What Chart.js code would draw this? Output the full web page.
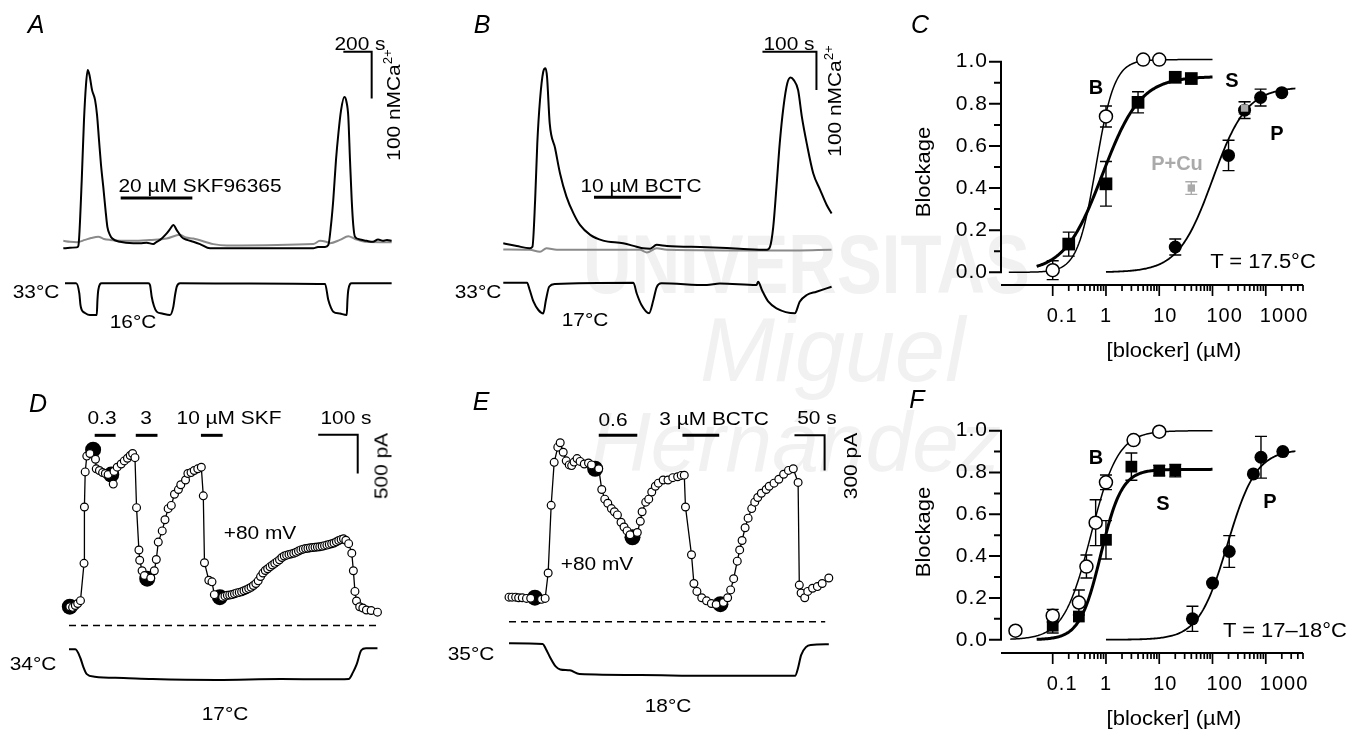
<!DOCTYPE html>
<html>
<head>
<meta charset="utf-8">
<title>Block of cold-evoked responses</title>
<script src="https://cdn.jsdelivr.net/npm/chart.js"></script>
<style>
  html, body { margin:0; padding:0; background:#fff; }
  #fig { position:relative; width:1360px; height:730px; overflow:hidden;
         font-family:'Liberation Sans', Arial, Helvetica, sans-serif; color:#000; }
  #fig canvas { position:absolute; z-index:1; }
  .t { position:absolute; white-space:nowrap; font-size:19px; line-height:1;
       transform:translate(-50%,-50%) scaleX(1.1); z-index:2; }
  .r { transform:translate(-50%,-50%) rotate(-90deg) scaleX(1.1); }
  .p { font-size:25px; font-style:italic; transform:translate(-50%,-50%); }
  .b { font-weight:bold; font-size:20px; transform:translate(-50%,-50%); }
  .ax { font-size:20px; }
  .wm { position:absolute; white-space:nowrap; color:#f1f1f1; line-height:1; z-index:0; transform-origin:0 0; }
  sup { font-size:12px; vertical-align:8px; line-height:0; }
</style>
</head>
<body>
<div id="fig">
  <div class="wm" style="left:583px;top:222px;font-size:84px;font-weight:bold;transform:scaleX(0.8);">UNIVERSITAS</div>
  <div class="wm" style="left:700px;top:305px;font-size:90px;font-style:italic;">Miguel</div>
  <div class="wm" style="left:590px;top:400px;font-size:84px;font-style:italic;">Hernández</div>

  <canvas id="cA" width="440" height="345" style="left:0px;top:0px"></canvas>
  <canvas id="cB" width="440" height="345" style="left:440px;top:0px"></canvas>
  <canvas id="cC" width="440" height="340" style="left:900px;top:30px"></canvas>
  <canvas id="cD" width="440" height="360" style="left:0px;top:370px"></canvas>
  <canvas id="cE" width="440" height="360" style="left:440px;top:370px"></canvas>
  <canvas id="cF" width="440" height="330" style="left:900px;top:400px"></canvas>

  <!-- panel A -->
  <div class="t p" style="left:36px;top:24px">A</div>
  <div class="t" style="left:360px;top:43px">200 s</div>
  <div class="t r" style="left:393px;top:105px">100 nMCa<sup>2+</sup></div>
  <div class="t" style="left:200px;top:185px">20 µM SKF96365</div>
  <div class="t" style="left:36px;top:291px">33°C</div>
  <div class="t" style="left:133px;top:321px">16°C</div>

  <!-- panel B -->
  <div class="t p" style="left:482px;top:24px">B</div>
  <div class="t" style="left:789px;top:43px">100 s</div>
  <div class="t r" style="left:834px;top:101px">100 nMCa<sup>2+</sup></div>
  <div class="t" style="left:641px;top:185px">10 µM BCTC</div>
  <div class="t" style="left:478px;top:291px">33°C</div>
  <div class="t" style="left:585px;top:319px">17°C</div>

  <!-- panel C -->
  <div class="t p" style="left:920px;top:24px">C</div>
  <div class="t b" style="left:1096px;top:87px">B</div>
  <div class="t b" style="left:1232px;top:80px">S</div>
  <div class="t b" style="left:1277px;top:133px">P</div>
  <div class="t b" style="left:1177px;top:163px;color:#aaa">P+Cu</div>
  <div class="t ax" style="left:1263px;top:261px">T = 17.5°C</div>
  <div class="t r ax" style="left:923px;top:172px">Blockage</div>
  <div class="t ax" style="left:1174px;top:350px">[blocker] (µM)</div>

  <!-- panel D -->
  <div class="t p" style="left:38px;top:403px">D</div>
  <div class="t" style="left:102px;top:417px">0.3</div>
  <div class="t" style="left:146px;top:417px">3</div>
  <div class="t" style="left:229px;top:417px">10 µM SKF</div>
  <div class="t" style="left:346px;top:417px">100 s</div>
  <div class="t r" style="left:381px;top:466px">500 pA</div>
  <div class="t" style="left:260px;top:532px">+80 mV</div>
  <div class="t" style="left:33px;top:663px">34°C</div>
  <div class="t" style="left:225px;top:713px">17°C</div>

  <!-- panel E -->
  <div class="t p" style="left:481px;top:401px">E</div>
  <div class="t" style="left:613px;top:419px">0.6</div>
  <div class="t" style="left:714px;top:418px">3 µM BCTC</div>
  <div class="t" style="left:817px;top:417px">50 s</div>
  <div class="t r" style="left:850px;top:466px">300 pA</div>
  <div class="t" style="left:597px;top:563px">+80 mV</div>
  <div class="t" style="left:471px;top:653px">35°C</div>
  <div class="t" style="left:668px;top:705px">18°C</div>

  <!-- panel F -->
  <div class="t p" style="left:917px;top:399px">F</div>
  <div class="t b" style="left:1096px;top:457px">B</div>
  <div class="t b" style="left:1163px;top:503px">S</div>
  <div class="t b" style="left:1270px;top:501px">P</div>
  <div class="t ax" style="left:1285px;top:630px">T = 17–18°C</div>
  <div class="t r ax" style="left:923px;top:532px">Blockage</div>
  <div class="t ax" style="left:1174px;top:718px">[blocker] (µM)</div>
</div>

<script>
// ---------------- A: Ca2+ imaging, 20 µM SKF96365 ----------------
const A_time   = [0,47,95,106,113,130,146,160,172,185,203,224,238,252,266,282,298,311,329,346,400,494,541,589,635,659,683,730,753,777,801,836,873,918,965,1036,1765,1798,1848,1871,1890,1906,1925,1942,1961,1984,1999,2012,2024,2036,2047,2059,2094,2142,2186,2222,2257,2285,2318];
const A_ca     = [50,51,52,55,79,196,325,400,432,421,389,368,336,282,229,182,132,96,79,71,64,61,61,62,59,64,68,82,91,100,89,74,68,64,59,50,50,53,53,57,100,154,239,296,346,374,364,332,239,154,100,75,69,66,64,69,66,68,66];
const A_ctrlTime = [0,47,95,153,196,247,287,330,494,612,730,824,866,918,1059,1154,1765,1812,1855,1883,1953,2012,2059,2130,2318];
const A_ctrlCa   = [66,64,63,68,72,75,70,68,66,68,71,79,73,71,59,56,59,66,64,61,68,76,70,64,63];
const A_tempTime = [12,90,113,121,130,153,188,236,241,247,271,600,612,624,640,659,697,753,777,789,801,824,1318,1848,1871,1890,1906,1953,2001,2006,2012,2036,2318];
const A_temp     = [33,33,27.6,21.4,18.7,17.1,16,16,24,29.4,33,33,32.1,25.8,20.8,17.8,16.8,16,20.5,26.7,31.2,33,32.9,32.6,24,19.8,17.8,16.8,16,24,29.4,33,33];
const A_drug     = [405, 911];      // s, SKF96365 application
const A_drugLevel = 158;            // nM, height of application bar
const A_scaleAt  = [1977, 471];     // s, nM (corner of calibration)
const A_scaleLen = [200, 100];      // 200 s, 100 nM

// ---------------- B: Ca2+ imaging, 10 µM BCTC ----------------
const B_time = [0,25,49,54,59,63,68,74,78,81,86,96,105,117,130,142,161,185,222,247,259,272,284,303,377,438,488,494,500,506,512,519,526,532,538,546,553,562,574,587,599,608];
const B_ca   = [63,56,50,54,176,324,437,511,520,498,376,311,246,185,141,111,85,70,63,54,50,49,59,56,53,49,46,54,106,211,324,420,481,496,489,463,393,324,246,202,163,141];
const B_ctrlTime = [0,49,68,80,99,253,266,284,303,500,608];
const B_ctrlCa   = [47,46,41,50,46,46,39,50,46,44,46];
const B_tempTime = [0,44,49,56,65,74,79,85,96,241,247,256,270,278,284,293,377,401,469,472,479,491,506,540,549,562,580,608];
const B_temp     = [33,33,29.2,23.1,18.8,17,24,30.9,32.3,33,27.5,21.4,17.1,24,30.6,32.7,31.8,32.6,31.8,33.5,29.2,23.1,19.7,17.1,23.1,26.6,28.3,30.9];
const B_drug      = [168, 329];
const B_drugLevel = 183;
const B_scaleAt   = [480, 563];
const B_scaleLen  = [100, 100];

// ---------------- C: dose-response, T = 17.5 °C ----------------
const C_bctcConc = [0.1, 1, 5, 10];
const C_bctc     = [0.01, 0.74, 1.01, 1.01];
const C_bctcErr  = [0.045, 0.05, 0, 0];
const C_skfConc  = [0.2, 1, 4, 20, 40];
const C_skf      = [0.134, 0.42, 0.807, 0.926, 0.92];
const C_skfErr   = [0.057, 0.106, 0.05, 0, 0];
const C_proConc  = [20, 200, 400, 800, 2000];
const C_pro      = [0.12, 0.555, 0.77, 0.83, 0.853];
const C_proErr   = [0.038, 0.072, 0.04, 0.04, 0];
const C_proCuConc = [40, 400];
const C_proCu     = [0.40, 0.78];
const C_proCuErr  = [0.03, 0.03];
// Hill fits: [max, IC50 (µM), nH, first conc, last conc]
const C_bctcFit = [1.01, 0.65, 2.5, 0.015, 100];
const C_skfFit  = [0.93, 0.86, 1.22, 0.05, 100];
const C_proFit  = [0.88, 100, 1.35, 1, 3600];

// ---------------- D: whole-cell current at +80 mV, SKF96365 ----------------
const D_time    = [2,9,16,22,29,38,39,41,45,53,67,69,77,85,92,99,112,114,122,132,140,148,155,161,167,171,177,179,185,191,207,216,221,226,236,243,251,259,267,277,283,295,301,309,317,326,335,340,343,354,362,368,
                   389,395,401,407,413,419,425,431,437,443,449,455,461,467,473,479,485,491,497,503,509,515,521,527,533,539,545,551,557,563,569,575,581,587,593,599,605,611,617,623,629,635,641,647,653,659,665,671,677,683,689,695,701,708,
                   716,720,724,728,736,744,753,765,781];
const D_current = [242,234,258,283,320,800,1525,1977,2181,2214,2140,2017,1996,1968,1956,1943,1820,1984,2038,2079,2119,2153,2189,2214,2161,1517,972,840,705,643,611,705,849,1074,1218,1362,1504,1546,1689,1750,1812,1873,1956,1968,1996,2017,2038,1669,808,582,562,397,
                   365,378,388,392,398,408,420,426,433,448,461,475,492,515,540,575,630,675,708,730,755,778,800,822,845,875,895,906,915,922,930,942,958,973,983,990,995,1000,1004,1008,1010,1013,1020,1028,1035,1044,1052,1062,1077,1094,1106,1116,1098,1054,
                   931,705,439,316,242,225,200,193,172];
const D_markTime    = [2, 61, 107, 198, 382];
const D_markCurrent = [242, 2263, 1943, 603, 365];
const D_tempTime = [0,16,29,36,45,65,138,211,374,537,651,708,719,728,740,752,781];
const D_temp     = [34,34,28.9,24.1,19.8,18.3,17.6,17,16.5,17,16.8,17,20.8,25.2,33.5,34.7,34.7];
const D_drugs     = [[65,118],[169,224],[334,389]];   // 0.3, 3, 10 µM SKF
const D_drugLevel = 2448;
const D_zero      = [0, 781];
const D_scaleAt   = [631, 2456];
const D_scaleLen  = [100, 500];   // 100 s, 500 pA

// ---------------- E: whole-cell current at +80 mV, BCTC ----------------
const E_time    = [0,5,11,16,22,29,36,54,60,65,70,75,81,85,90,95,100,104,108,113,118,125,132,137,149,154,159,164,170,175,180,186,191,196,201,213,218,221,227,232,237,243,248,256,264,272,280,286,291,293,303,307,312,320,328,336,344,356,363,368,373,379,383,387,392,397,403,408,413,419,427,432,440,448,456,464,472,480,482,485,491,496,504,512,520,531];
const E_current = [210,210,210,205,205,199,200,191,199,417,996,1364,1494,1532,1450,1377,1342,1336,1366,1396,1372,1350,1358,1342,1309,1131,1049,1014,968,941,914,851,810,777,744,763,859,941,1023,1049,1110,1159,1186,1213,1213,1233,1241,1252,1254,982,573,327,259,205,178,155,147,164,205,272,368,518,614,695,804,886,968,1023,1063,1099,1131,1159,1186,1219,1262,1295,1309,1192,313,245,205,259,286,300,327,374];
const E_markTime    = [43, 143, 205, 351];
const E_markCurrent = [205, 1309, 722, 150];
const E_tempTime = [0,56,61,69,77,85,101,117,219,325,475,480,485,493,501,531];
const E_temp     = [35.2,34.8,32.3,27.2,23,21.3,20.8,18.8,18.3,17.9,17.9,22.2,28.9,33.1,34.3,34.6];
const E_drugs     = [[149,213],[288,349]];   // 0.6, 3 µM BCTC
const E_drugLevel = 1595;
const E_zero      = [0, 525];
const E_scaleAt   = [474, 1595];
const E_scaleLen  = [50, 300];    // 50 s, 300 pA

// ---------------- F: dose-response, T = 17-18 °C ----------------
const F_bctcConc = [0.02, 0.1, 0.31, 0.43, 0.64, 1, 3.3, 10];
const F_bctc     = [0.043, 0.115, 0.178, 0.35, 0.56, 0.753, 0.955, 0.995];
const F_bctcErr  = [0, 0.03, 0.06, 0.055, 0.11, 0.035, 0, 0];
const F_skfConc  = [0.1, 0.31, 1, 3, 10, 20];
const F_skf      = [0.067, 0.111, 0.478, 0.828, 0.809, 0.809];
const F_skfErr   = [0.035, 0, 0.092, 0.065, 0.025, 0.03];
const F_proConc  = [42, 100, 206, 585, 813, 2090];
const F_pro      = [0.10, 0.271, 0.422, 0.793, 0.873, 0.90];
const F_proErr   = [0.06, 0, 0.076, 0, 0.1, 0];
const F_bctcFit = [1.0, 0.52, 1.7, 0.016, 100];
const F_skfFit  = [0.815, 0.8, 2.2, 0.05, 100];
const F_proFit  = [0.91, 190, 1.6, 1, 3600];

// Axis tick values for the dose-response plots
const blockTicks  = [0, 0.2, 0.4, 0.6, 0.8, 1.0];
const decadeTicks = [0.1, 1, 10, 100, 1000];

// ================= helpers =================
Chart.defaults.font.family = "'Liberation Sans', Arial, Helvetica, sans-serif";
Chart.defaults.color = '#000';

const pts = (xs, ys) => xs.map((x, i) => ({ x, y: ys[i] }));

// Hill equation evaluated on a log-spaced concentration grid
function hillCurve([top, ic50, n, lo, hi]) {
  const out = [], N = 160;
  for (let i = 0; i <= N; i++) {
    const c = lo * Math.pow(hi / lo, i / N);
    out.push({ x: c, y: top / (1 + Math.pow(ic50 / c, n)) });
  }
  return out;
}

const smoothLine = (data, color, width, axis) => ({
  data, borderColor: color, borderWidth: width, pointRadius: 0, fill: false,
  cubicInterpolationMode: 'monotone', yAxisID: axis || 'y', clip: false, order: 5
});
const segment = (data, width, axis, dash) => ({
  data, borderColor: '#000', borderWidth: width, pointRadius: 0, fill: false, tension: 0,
  borderCapStyle: 'butt', borderJoinStyle: 'miter', yAxisID: axis || 'y', clip: false,
  borderDash: dash || [], order: 6
});
const scaleBar = ([t0, v0], [dt, dv]) =>
  segment([{ x: t0, y: v0 }, { x: t0 + dt, y: v0 }, { x: t0 + dt, y: v0 - dv }], 2);
const appBar = ([t0, t1], level) => segment([{ x: t0, y: level }, { x: t1, y: level }], 3);

function traceChart(id, g, datasets) {
  return new Chart(document.getElementById(id), {
    type: 'line',
    data: { datasets },
    options: {
      responsive: false, animation: false, devicePixelRatio: 1, events: [],
      layout: { padding: 0 },
      plugins: { legend: { display: false }, tooltip: { enabled: false } },
      scales: {
        x:  { type: 'linear', display: false, min: g.x[0], max: g.x[1] },
        y:  { type: 'linear', display: false, min: g.y[0], max: g.y[1] },
        yT: { type: 'linear', display: false, min: g.t[0], max: g.t[1] }
      }
    }
  });
}

// ---- A ----
traceChart('cA', { x: [-447, 2659.4], y: [-157.2, 582.1], t: [-0.07, 184.8] }, [
  smoothLine(pts(A_time, A_ca), '#000', 2),
  smoothLine(pts(A_ctrlTime, A_ctrlCa), '#8a8a8a', 2),
  smoothLine(pts(A_tempTime, A_temp), '#000', 2, 'yT'),
  appBar(A_drug, A_drugLevel),
  scaleBar(A_scaleAt, A_scaleLen)
]);

// ---- B ----
traceChart('cB', { x: [-117.2, 697.7], y: [-202.4, 698.1], t: [0.6, 180] }, [
  smoothLine(pts(B_time, B_ca), '#000', 2),
  smoothLine(pts(B_ctrlTime, B_ctrlCa), '#8a8a8a', 2),
  smoothLine(pts(B_tempTime, B_temp), '#000', 2, 'yT'),
  appBar(B_drug, B_drugLevel),
  scaleBar(B_scaleAt, B_scaleLen)
]);

// ---- D / E : open-circle time courses with filled markers at I-V ramps ----
function currentSets(time, cur, mTime, mCur) {
  return [
    { data: pts(time, cur), borderColor: '#000', borderWidth: 1.3, tension: 0, fill: false,
      pointStyle: 'circle', pointRadius: 3.9, pointBorderWidth: 1.2,
      pointBackgroundColor: '#fff', pointBorderColor: '#000', clip: false, order: 1 },
    { data: pts(mTime, mCur), showLine: false, pointStyle: 'circle', pointRadius: 8,
      pointBorderWidth: 0, pointBackgroundColor: '#000', pointBorderColor: '#000', clip: false, order: 2 }
  ];
}

traceChart('cD', { x: [-154.5, 919.1], y: [-1242, 3186], t: [-7.65, 189.6] }, [
  ...currentSets(D_time, D_current, D_markTime, D_markCurrent),
  segment([{ x: D_zero[0], y: 0 }, { x: D_zero[1], y: 0 }], 1.5, 'y', [7, 5]),
  smoothLine(pts(D_tempTime, D_temp), '#000', 2, 'yT'),
  ...D_drugs.map(d => appBar(d, D_drugLevel)),
  scaleBar(D_scaleAt, D_scaleLen)
]);

traceChart('cE', { x: [-101.3, 602.7], y: [-859, 2086], t: [-6.6, 175.9] }, [
  ...currentSets(E_time, E_current, E_markTime, E_markCurrent),
  segment([{ x: E_zero[0], y: 0 }, { x: E_zero[1], y: 0 }], 1.5, 'y', [7, 5]),
  smoothLine(pts(E_tempTime, E_temp), '#000', 2, 'yT'),
  ...E_drugs.map(d => appBar(d, E_drugLevel)),
  scaleBar(E_scaleAt, E_scaleLen)
]);

// ---- dose-response plots ----
const wideText = { id: 'wideText', beforeDraw(chart) { chart.ctx.letterSpacing = '1px'; } };

const errorBars = {
  id: 'errorBars',
  beforeDatasetsDraw(chart) {
    const { ctx, scales: { x, y } } = chart;
    ctx.save();
    chart.data.datasets.forEach(ds => {
      if (!ds.errors) return;
      ctx.strokeStyle = ds.errorColor || '#000';
      ctx.lineWidth = 1.4;
      ds.data.forEach((p, i) => {
        const e = ds.errors[i];
        if (!e) return;
        const px = x.getPixelForValue(p.x);
        const top = y.getPixelForValue(p.y + e), bot = y.getPixelForValue(p.y - e);
        ctx.beginPath();
        ctx.moveTo(px, top); ctx.lineTo(px, bot);
        ctx.moveTo(px - 6, top); ctx.lineTo(px + 6, top);
        ctx.moveTo(px - 6, bot); ctx.lineTo(px + 6, bot);
        ctx.stroke();
      });
    });
    ctx.restore();
  }
};

// Detached axis lines: y spine spans 0..1 only, log x axis with minor ticks below
const axisFrame = {
  id: 'axisFrame',
  afterDraw(chart) {
    const { ctx, chartArea: a, scales: { x, y } } = chart;
    ctx.save();
    ctx.strokeStyle = '#000';
    ctx.lineCap = 'butt';
    ctx.lineWidth = 2;
    const yTop = y.getPixelForValue(1), yBot = y.getPixelForValue(0);
    ctx.beginPath();
    ctx.moveTo(a.left, yBot + 1); ctx.lineTo(a.left, yTop - 1);
    for (let i = 0; i <= 10; i++) {
      const p = y.getPixelForValue(i / 10);
      const len = i % 2 === 0 ? 12 : 7;
      ctx.moveTo(a.left - len, p); ctx.lineTo(a.left, p);
    }
    ctx.moveTo(a.left, a.bottom); ctx.lineTo(a.right, a.bottom);
    ctx.stroke();
    ctx.lineWidth = 1.7;
    ctx.beginPath();
    decadeTicks.forEach(d => {
      const p = x.getPixelForValue(d);
      ctx.moveTo(p, a.bottom); ctx.lineTo(p, a.bottom + 11);
      for (let k = 2; k <= 9; k++) {
        const v = d * k;
        if (v > x.max * 1.0001) break;
        const q = x.getPixelForValue(v);
        ctx.moveTo(q, a.bottom); ctx.lineTo(q, a.bottom + 6);
      }
    });
    ctx.stroke();
    ctx.restore();
  }
};

function marker(data, style, radius, fillColor, borderW, errors, errColor) {
  return { data, showLine: false, pointStyle: style, pointRadius: radius,
           pointBackgroundColor: fillColor, pointBorderColor: '#000', pointBorderWidth: borderW,
           errors, errorColor: errColor, clip: false, order: 1 };
}
const fitLine = (curve, width) => ({ data: curve, showLine: true, borderColor: '#000', borderWidth: width,
  pointRadius: 0, fill: false, tension: 0, clip: false, order: 5 });

function doseChart(id, g, datasets) {
  return new Chart(document.getElementById(id), {
    type: 'scatter',
    data: { datasets },
    options: {
      responsive: false, animation: false, devicePixelRatio: 1, events: [],
      layout: { padding: { left: 10, right: 37, top: g.top, bottom: g.bottom } },
      plugins: { legend: { display: false }, tooltip: { enabled: false } },
      scales: {
        x: { type: 'logarithmic', min: 0.0107, max: 5000,
             grid: { display: false, drawTicks: true, tickLength: 11 }, border: { display: false },
             ticks: { padding: 8, maxRotation: 0, autoSkip: false, font: { size: 20 },
                      align: 'start', labelOffset: -6, callback: v => String(v) },
             afterBuildTicks: s => { s.ticks = decadeTicks.map(v => ({ value: v })); },
             afterFit: s => { s.height = 77; } },
        y: { type: 'linear', min: g.ymin, max: 1,
             grid: { display: false, drawTicks: true, tickLength: 12 }, border: { display: false },
             ticks: { padding: 1, font: { size: 21 }, callback: v => Number(v).toFixed(1) },
             afterBuildTicks: s => { s.ticks = blockTicks.map(v => ({ value: v })); },
             afterFit: s => { s.width = 91; } }
      }
    },
    plugins: [wideText, errorBars, axisFrame]
  });
}

doseChart('cC', { top: 31.7, bottom: 8, ymin: -0.0603 }, [
  marker(pts(C_proCuConc, C_proCu), 'rect', 5.2, '#aaaaaa', 0, C_proCuErr, '#aaaaaa'),
  marker(pts(C_bctcConc, C_bctc), 'circle', 6.5, '#fff', 1.5, C_bctcErr),
  marker(pts(C_skfConc, C_skf), 'rect', 9, '#000', 0, C_skfErr),
  marker(pts(C_proConc, C_pro), 'circle', 6.5, '#000', 0, C_proErr),
  fitLine(hillCurve(C_bctcFit), 1.5),
  fitLine(hillCurve(C_skfFit), 3),
  fitLine(hillCurve(C_proFit), 1.8)
]);

doseChart('cF', { top: 30.7, bottom: 0, ymin: -0.0635 }, [
  marker(pts(F_bctcConc, F_bctc), 'circle', 6.5, '#fff', 1.5, F_bctcErr),
  marker(pts(F_skfConc, F_skf), 'rect', 8.3, '#000', 0, F_skfErr),
  marker(pts(F_proConc, F_pro), 'circle', 6.5, '#000', 0, F_proErr),
  fitLine(hillCurve(F_bctcFit), 1.5),
  fitLine(hillCurve(F_skfFit), 3),
  fitLine(hillCurve(F_proFit), 1.8)
]);
</script>
</body>
</html>
